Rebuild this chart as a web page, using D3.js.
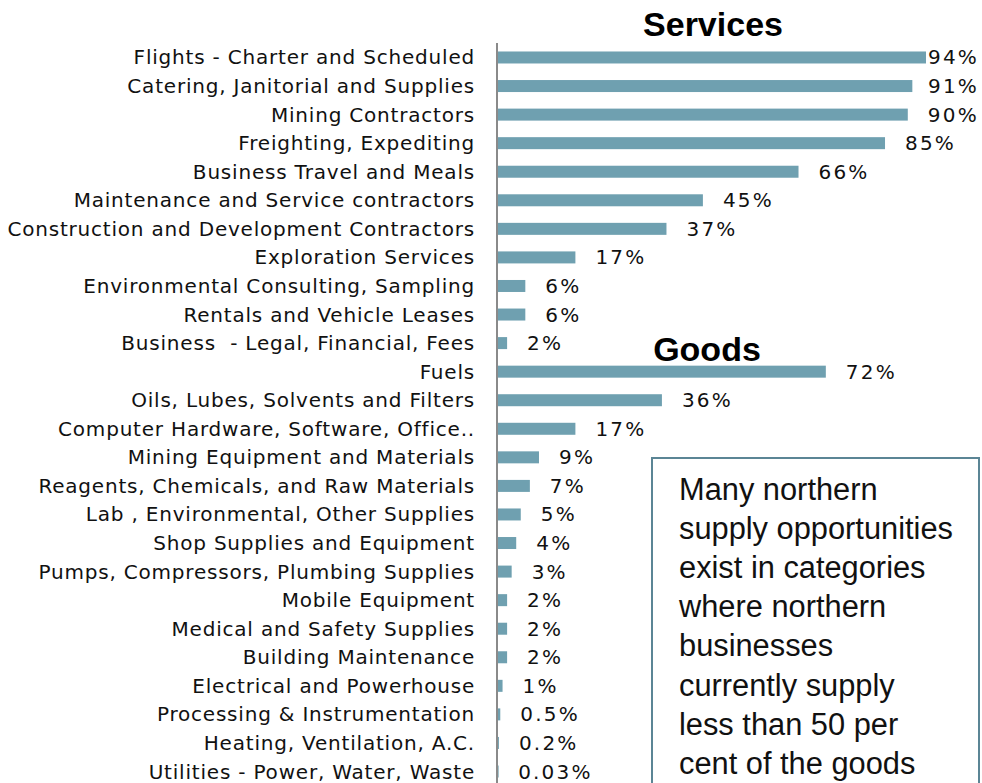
<!DOCTYPE html>
<html>
<head>
<meta charset="utf-8">
<script src="https://cdn.jsdelivr.net/npm/d3@7"></script>
<style>
  body { margin: 0; background: #fff; }
  svg { display: block; }
  .label { font-family: "DejaVu Sans", sans-serif; font-size: 20px; letter-spacing: 0.8px; fill: #111; }
  .value { font-family: "DejaVu Sans", sans-serif; font-size: 20px; letter-spacing: 2.2px; fill: #111; }
  .head { font-family: "Liberation Sans", Arial, sans-serif; font-size: 34px; font-weight: bold; fill: #000; }
  .note { font-family: "Liberation Sans", Arial, sans-serif; font-size: 30.8px; fill: #111; }
</style>
</head>
<body>
<svg id="chart" width="982" height="783"></svg>
<script>
const services = ["Flights - Charter and Scheduled", "Catering, Janitorial and Supplies",
    "Mining Contractors", "Freighting, Expediting", "Business Travel and Meals",
    "Maintenance and Service contractors", "Construction and Development Contractors",
    "Exploration Services", "Environmental Consulting, Sampling",
    "Rentals and Vehicle Leases", "Business  - Legal, Financial, Fees"];
const serviceValues = [94, 91, 90, 85, 66, 45, 37, 17, 6, 6, 2];
const serviceLabels = ["94%", "91%", "90%", "85%", "66%", "45%", "37%", "17%", "6%", "6%", "2%"];

const goods = ["Fuels", "Oils, Lubes, Solvents and Filters", "Computer Hardware, Software, Office..",
    "Mining Equipment and Materials", "Reagents, Chemicals, and Raw Materials",
    "Lab , Environmental, Other Supplies", "Shop Supplies and Equipment",
    "Pumps, Compressors, Plumbing Supplies", "Mobile Equipment", "Medical and Safety Supplies",
    "Building Maintenance", "Electrical and Powerhouse", "Processing & Instrumentation",
    "Heating, Ventilation, A.C.", "Utilities - Power, Water, Waste"];
const goodsValues = [72, 36, 17, 9, 7, 5, 4, 3, 2, 2, 2, 1, 0.5, 0.2, 0.03];
const goodsLabels = ["72%", "36%", "17%", "9%", "7%", "5%", "4%", "3%", "2%", "2%", "2%", "1%", "0.5%", "0.2%", "0.03%"];

const noteLines = ["Many northern", "supply opportunities", "exist in categories", "where northern",
    "businesses", "currently supply", "less than 50 per", "cent of the goods"];

const rows = services.map((c, i) => ({cat: c, v: serviceValues[i], lbl: serviceLabels[i]}))
    .concat(goods.map((c, i) => ({cat: c, v: goodsValues[i], lbl: goodsLabels[i]})));

const svg = d3.select("#chart");
const x0 = 498;

const x = d3.scaleLinear().domain([0, 94]).range([x0, 926]);
const y = d3.scaleBand()
    .domain(rows.map(d => d.cat))
    .range([43.2, 785.8])
    .paddingInner(0.58)
    .paddingOuter(0.29);

// bars
svg.append('g').selectAll("rect").data(rows).enter().append('rect')
    .attr('x', x0)
    .attr('y', d => y(d.cat))
    .attr('width', d => Math.max(x(d.v) - x0, 0.6))
    .attr('height', y.bandwidth())
    .attr('fill', "#6fa0b0");

// axis line
svg.append('line')
    .attr('x1', x0 - 1).attr('x2', x0 - 1)
    .attr('y1', 43).attr('y2', 783)
    .attr('stroke', "#8a8a8a").attr('stroke-width', 2);

// category labels (letter-spacing adds a trailing gap, so shift right a bit)
svg.append('g').selectAll("text").data(rows).enter().append('text')
    .attr('class', "label")
    .attr('x', 475)
    .attr('y', d => y(d.cat) + y.bandwidth() / 2)
    .attr('dy', "0.35em")
    .attr('text-anchor', "end")
    .style('white-space', "pre")
    .text(d => d.cat);

// value labels
svg.append('g').selectAll("text").data(rows).enter().append('text')
    .attr('class', "value")
    .attr('x', d => Math.min(x(d.v) + 20, 928))
    .attr('y', d => y(d.cat) + y.bandwidth() / 2)
    .attr('dy', "0.35em")
    .text(d => d.lbl);

// section headings
svg.append('text').attr('class', "head")
    .attr('x', 713).attr('y', 36).attr('text-anchor', "middle")
    .text("Services");
svg.append('text').attr('class', "head")
    .attr('x', 707).attr('y', 361).attr('text-anchor', "middle")
    .text("Goods");

// note box
svg.append('rect')
    .attr('x', 652).attr('y', 458)
    .attr('width', 327).attr('height', 340)
    .attr('fill', "#fff")
    .attr('stroke', "#5b8595").attr('stroke-width', 2);
svg.append('g').selectAll("text").data(noteLines).enter().append('text')
    .attr('class', "note")
    .attr('x', 679)
    .attr('y', (d, i) => 500 + i * 39.1)
    .text(d => d);
</script>
</body>
</html>
